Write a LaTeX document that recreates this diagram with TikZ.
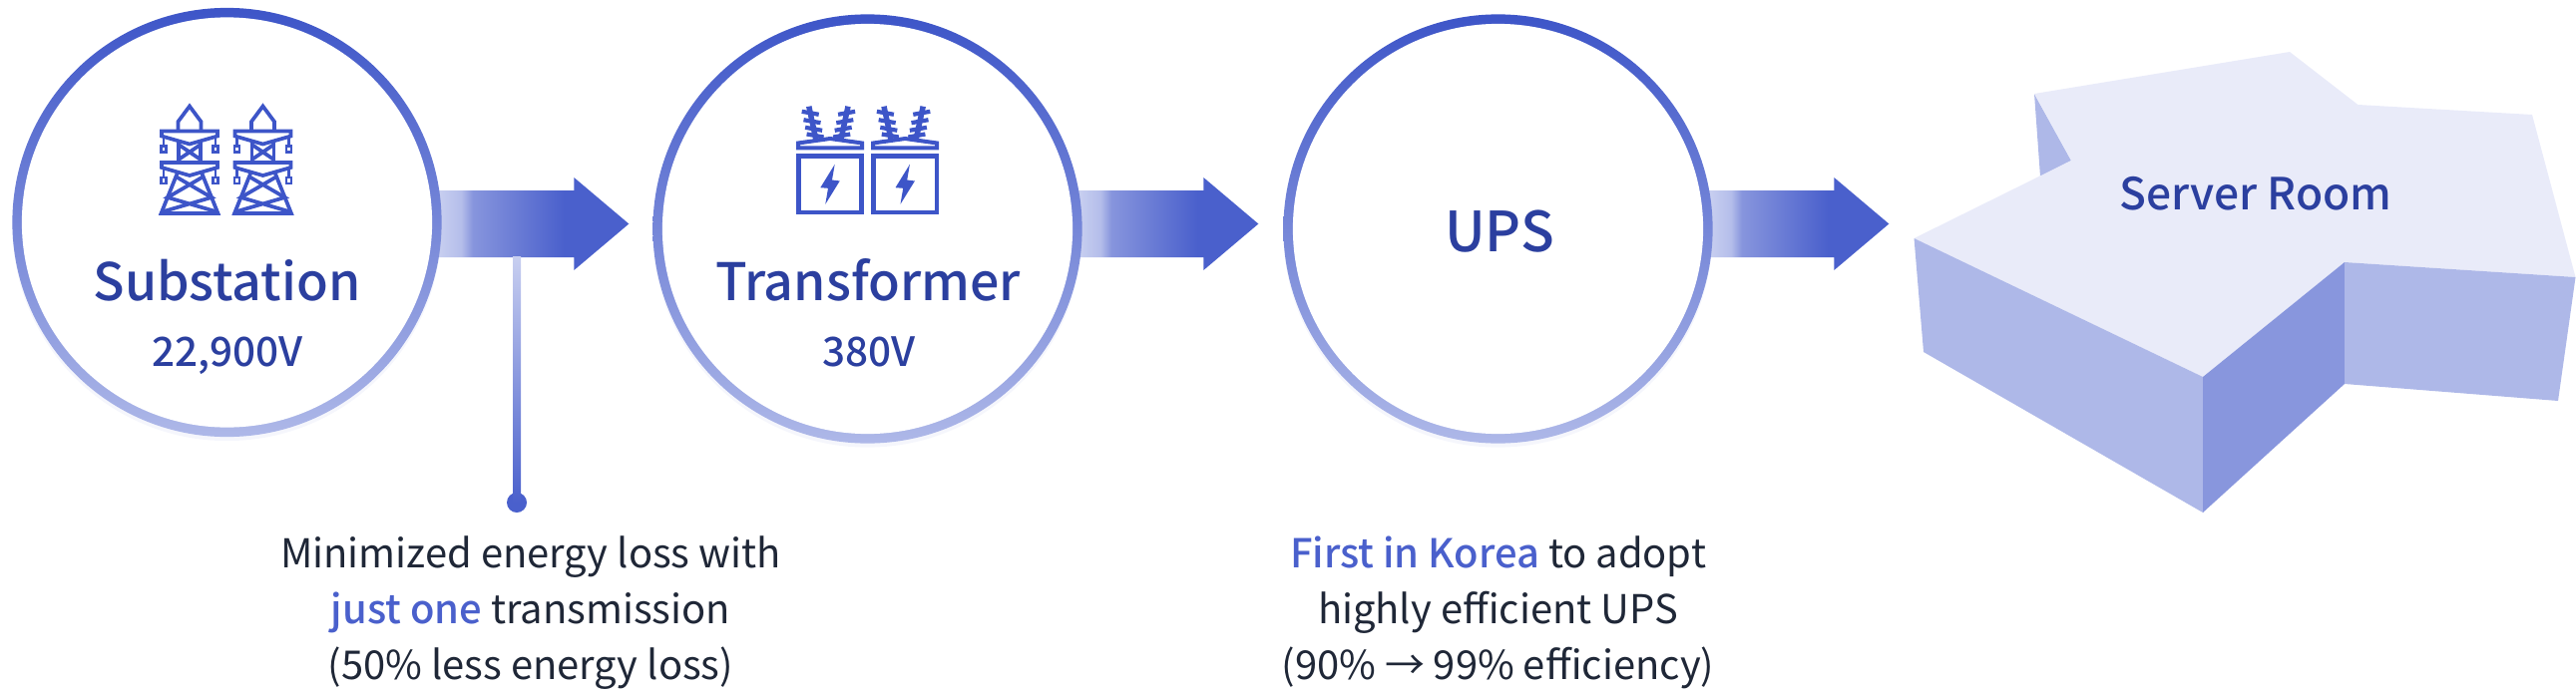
\documentclass[tikz,border=0pt]{standalone}
\usepackage{fontspec}
\setmainfont{Noto Sans CJK KR}
\newfontfamily\medfont{Noto Sans CJK KR Medium}
\usetikzlibrary{positioning,backgrounds,shadows}

\definecolor{ringtop}{HTML}{3D55C8}
\definecolor{ringlow}{HTML}{AEB8E8}
\definecolor{iconblue}{HTML}{3D55C8}
\definecolor{flowblue}{HTML}{4A60CC}
\definecolor{flowpale}{HTML}{C8CFF0}
\definecolor{flowmid}{HTML}{8795DD}
\definecolor{titleblue}{HTML}{2B3F9F}
\definecolor{noteink}{HTML}{1F2737}
\definecolor{roomtop}{HTML}{E9EBF9}
\definecolor{roomside}{HTML}{AEB8E8}
\definecolor{roomdark}{HTML}{8896DD}

\pgfdeclarehorizontalshading{flowfade}{100bp}{color(0bp)=(flowpale); color(25bp)=(flowpale); color(31bp)=(flowpale!70!flowmid); color(34bp)=(flowmid); color(58bp)=(flowblue); color(100bp)=(flowblue)}

% block arrow leaving a ring
\newcommand{\flowarrow}[2]{\path[flow] ([xshift=-.04cm]#1.east |- 0,191) -- ++(#2+4,0) -- ++(0,-13) -- ++(55,46.5) -- ++(-55,46.5) -- ++(0,-13) -- ++(-#2-4,0) -- cycle;}

\begin{document}
\begin{tikzpicture}[
    x=0.01cm,y=-0.01cm,
    ring/.style={circle,minimum size=4.3cm,inner sep=0pt,top color=ringtop,bottom color=ringlow,
        drop shadow={shadow xshift=0pt,shadow yshift=-.04cm,opacity=.12,fill=ringlow}},
    disc/.style={circle,minimum size=4.11cm,inner sep=0pt,fill=white},
    flow/.style={shade,shading=flowfade},
    title/.style={anchor=base,text=titleblue,inner sep=0pt,font=\medfont\fontsize{14.75}{18}\selectfont},
    volts/.style={anchor=base,text=titleblue,inner sep=0pt,font=\medfont\fontsize{11.5}{14}\selectfont},
    note/.style={anchor=base,align=center,text=noteink,inner sep=0pt,font=\fontsize{11.35}{15.93}\selectfont},
    icon/.style={draw=iconblue,line width=.037cm,line join=miter},
    pics/tower/.style={code={
        \draw[icon] (-11.5,25) -- (-11.5,17) -- (0,1.5) -- (11.5,17) -- (11.5,25);
        \foreach \y in {26.5,58} {
            \draw[icon] (-28,\y) -- (28,\y) -- (28,\y+5) -- (0,\y+13) -- (-28,\y+5) -- cycle;
            \draw[icon,line width=.022cm] (-26,\y+5) -- (-26,\y+15) (26,\y+5) -- (26,\y+15);
            \draw[icon,line width=.022cm] (-28.5,\y+15) rectangle (-23.5,\y+21) (23.5,\y+15) rectangle (28.5,\y+21);
        }
        \draw[icon] (-11,35) -- (-11,57) (11,35) -- (11,57);
        \draw[icon] (-11,40) -- (11,55) (11,40) -- (-11,55);
        \draw[icon] (-12,68) -- (-28.5,109) -- (28.5,109) -- (12,68);
        \draw[icon] (-14,72) -- (22,93) -- (-26,107) (14,72) -- (-22,93) -- (26,107);
    }},
    pics/transformer/.style={code={
        \foreach \s in {-1,1} {
            \draw[icon,line width=.055cm] ({\s*19.6-1.6},-1.3) -- ({\s*12.5-1.6},32);
            \foreach \y/\c in {5.3/18.2,13.7/16.4,21.3/14.8,28/13.3}
                \draw[icon,line width=.042cm] ({\s*(\c+8.5)-1.6},\y-1.5) -- ({\s*(\c-8.5)-1.6},\y+1.5);
        }
        \draw[icon,line width=.04cm] (-32,40.3) -- (32,40.3) -- (32,35.5) -- (0,31) -- (-32,35.5) -- cycle;
        \draw[icon,line width=.045cm] (-31.7,48.3) rectangle (31.7,105);
        \fill[iconblue] (4.7,56.8) -- (-9.7,80.2) -- (-2,80.8) -- (-4.7,96.8) -- (9.7,73.5) -- (2,72.5) -- cycle;
    }}
]
\useasboundingbox (0,0) rectangle (2582,694);

% Rings and discs
\node[ring] (substation_ring)  at (227.5,223)   {};
\node[disc] (substation)       at (227.5,223)   {};
\node[ring] (transformer_ring) at (869.5,229.5) {};
\node[disc] (transformer)      at (869.5,229.5) {};
\node[ring] (ups_ring)         at (1501.5,229.5) {};
\node[disc] (ups)              at (1501.5,229.5) {};

% Flow arrows go behind the rings
\begin{scope}[on background layer]
\flowarrow{substation_ring}{132}
\flowarrow{transformer_ring}{121}
\flowarrow{ups_ring}{121}
\end{scope}

% Icons
\pic at (190,105)   {tower};
\pic at (263.5,105) {tower};
\pic at (832,108)   {transformer};
\pic at (907.2,108) {transformer};

% Labels in the rings
\node[title] (substation_title)  at (227.5,301.7) {Substation};
\node[volts] (substation_volts)  at (228,367.7)   {22,900V};
\node[title] (transformer_title) at (870,301.7)   {Transformer};
\node[volts] (transformer_volts) at (870.6,367.7) {380V};
\node[anchor=base,text=titleblue,inner sep=0pt,font=\medfont\fontsize{15.8}{18}\selectfont] (ups_title) at (1503,252.7) {UPS};

% Server room block
\fill[roomside] (2039,94) -- (2076,161) -- (2045,177) -- cycle;
\fill[roomtop]  (2039,94) -- (2295,52) -- (2363.4,105) -- (2538,115) -- (2581.5,278) -- (2350,263)
    -- (2208,378) -- (1918.5,239) -- (2076,161) -- cycle;
\fill[roomside] (1918.5,239) -- (2208,378) -- (2208,514) -- (1928,353) -- cycle;
\fill[roomdark] (2208,378) -- (2350,263) -- (2350,385) -- (2208,514) -- cycle;
\fill[roomside] (2350,263) -- (2581.5,278) -- (2564,402) -- (2350,385) -- cycle;
\node[anchor=base,text=titleblue,inner sep=0pt,font=\medfont\fontsize{12.6}{14}\selectfont] (room_title) at (2261,210.7) {Server Room};

% Drop line under the first arrow
\coordinate (drop_top) at (518,257);
\node[circle,fill=flowblue,minimum size=.2cm,inner sep=0pt] (drop_end) at (518,504) {};
\shade[top color=flowpale,bottom color=flowblue] ([xshift=-.04cm]drop_top) rectangle ([xshift=.04cm]drop_end.center);

% Notes
\node[note] (loss_note) at (532,681.7) {Minimized energy loss with\\{\color{flowblue}\medfont just one} transmission\\(50\% less energy loss)};
\node[note] (ups_note) at (1501.5,681.7) {{\color{flowblue}\medfont First in Korea} to adopt\\highly efficient UPS\\(90\% → 99\% efficiency)};

\end{tikzpicture}
\end{document}
